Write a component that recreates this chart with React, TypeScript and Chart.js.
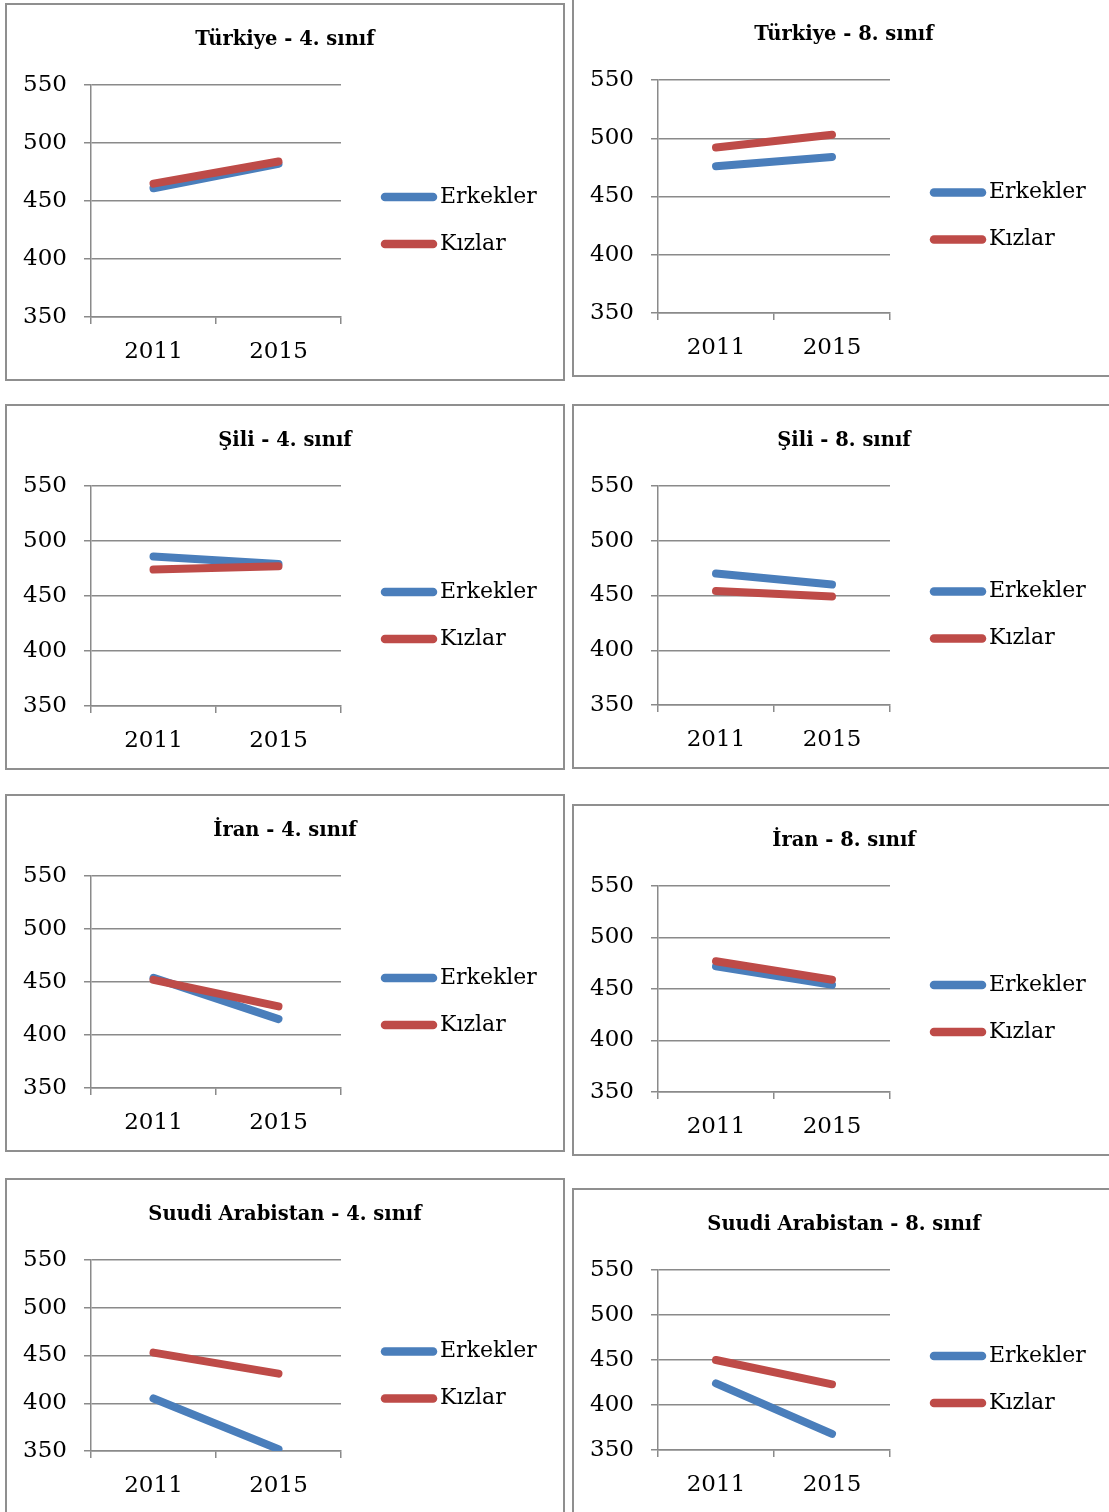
import { useEffect, useRef } from "react";
import { Chart, registerables } from "chart.js";

Chart.register(...registerables);

// Categories and series
const YEARS = ["2011", "2015"];
const PANEL_TITLES = [
  "Türkiye - 4. sınıf",
  "Türkiye - 8. sınıf",
  "Şili - 4. sınıf",
  "Şili - 8. sınıf",
  "İran - 4. sınıf",
  "İran - 8. sınıf",
  "Suudi Arabistan - 4. sınıf",
  "Suudi Arabistan - 8. sınıf",
];
const SERIES_NAMES = ["Erkekler", "Kızlar"];
const ERKEKLER = [
  [461, 482],
  [476, 484],
  [486, 479],
  [470, 460],
  [454, 415],
  [472, 454],
  [405, 352],
  [424, 368],
];
const KIZLAR = [
  [465, 484],
  [492, 503],
  [474, 477],
  [454, 449],
  [452, 427],
  [477, 459],
  [453, 431],
  [450, 423],
];
const Y_MIN = 350;
const Y_MAX = 550;
const Y_STEP = 50;

const SERIES_COLORS = ["#4a7ebb", "#be4b48"];
const GRID_COLOR = "#8a8a8a";
const FONT_FAMILY = '"DejaVu Serif", serif';

// Panel frames on the page: left, top, width, height, plot width
const FRAMES = [
  [5, 3, 560, 378, 250],
  [572, -2, 544, 379, 232],
  [5, 404, 560, 366, 250],
  [572, 404, 544, 365, 232],
  [5, 794, 560, 358, 250],
  [572, 804, 544, 352, 232],
  [5, 1178, 560, 337, 250],
  [572, 1188, 544, 326, 232],
];

const BORDER = 2;

function Panel({ index }: { index: number }) {
  const ref = useRef<HTMLCanvasElement>(null);
  const [bx, by, bw, bh, pw] = FRAMES[index];
  const cw = bw - 2 * BORDER;
  const ch = bh - 2 * BORDER;

  useEffect(() => {
    const canvas = ref.current;
    if (!canvas) return;
    const left = 86 - BORDER;
    const right = left + pw;
    const top = 82 - BORDER;
    const bottom = bh - 64 - BORDER;
    const title = PANEL_TITLES[index];

    // Title and legend drawn around the plot
    const decor = {
      id: "panelDecor",
      afterDraw(chart: any) {
        const ctx = chart.ctx as CanvasRenderingContext2D;
        const area = chart.chartArea;
        ctx.save();
        ctx.fillStyle = "#000";
        ctx.font = `bold 19.5px ${FONT_FAMILY}`;
        ctx.textAlign = "center";
        ctx.textBaseline = "middle";
        ctx.fillText(title, chart.width / 2, 37 - BORDER);

        const mid = (area.top + area.bottom) / 2 + 19.5;
        chart.data.datasets.forEach((ds: any, i: number) => {
          const y = mid + (i === 0 ? -23.5 : 23.5);
          const x0 = area.right + 40;
          ctx.strokeStyle = ds.borderColor;
          ctx.lineWidth = 8.5;
          ctx.lineCap = "round";
          ctx.beginPath();
          ctx.moveTo(x0 + 4, y);
          ctx.lineTo(x0 + 56 - 4, y);
          ctx.stroke();
          ctx.fillStyle = "#000";
          ctx.font = `22px ${FONT_FAMILY}`;
          ctx.textAlign = "left";
          ctx.textBaseline = "middle";
          ctx.fillText(ds.label, x0 + 59, y);
        });
        ctx.restore();
      },
    };

    const tickFont = { family: FONT_FAMILY, size: 23 };

    const chart = new Chart(canvas, {
      type: "line",
      data: {
        labels: YEARS,
        datasets: [
          {
            label: SERIES_NAMES[0],
            data: ERKEKLER[index],
            borderColor: SERIES_COLORS[0],
            backgroundColor: SERIES_COLORS[0],
            borderWidth: 8,
            borderCapStyle: "round",
            borderJoinStyle: "round",
            pointRadius: 0,
            order: 1,
          },
          {
            label: SERIES_NAMES[1],
            data: KIZLAR[index],
            borderColor: SERIES_COLORS[1],
            backgroundColor: SERIES_COLORS[1],
            borderWidth: 8,
            borderCapStyle: "round",
            borderJoinStyle: "round",
            pointRadius: 0,
            order: 0,
          },
        ],
      },
      options: {
        responsive: false,
        animation: false,
        devicePixelRatio: 1,
        events: [],
        layout: {
          autoPadding: false,
          padding: { left: 0, top, right: cw - right, bottom: 0 },
        },
        plugins: {
          legend: { display: false },
          title: { display: false },
          tooltip: { enabled: false },
        },
        scales: {
          x: {
            type: "category",
            offset: true,
            grid: {
              offset: true,
              drawOnChartArea: false,
              drawTicks: true,
              tickLength: 7,
              color: GRID_COLOR,
              lineWidth: 1.5,
            },
            border: { display: true, color: GRID_COLOR, width: 1.5 },
            ticks: {
              color: "#000",
              font: tickFont,
              padding: 14,
              maxRotation: 0,
              autoSkip: false,
            },
            afterFit: (s: any) => {
              s.height = ch - bottom;
            },
          },
          y: {
            min: Y_MIN,
            max: Y_MAX,
            ticks: {
              stepSize: Y_STEP,
              color: "#000",
              font: tickFont,
              padding: 17,
            },
            grid: { color: GRID_COLOR, lineWidth: 1.5, tickLength: 7 },
            border: { display: true, color: GRID_COLOR, width: 1.5 },
            afterFit: (s: any) => {
              s.width = left;
            },
          },
        },
      },
      plugins: [decor],
    } as any);

    return () => chart.destroy();
  }, [index]);

  return (
    <div
      style={{
        position: "absolute",
        left: bx,
        top: by,
        width: bw,
        height: bh,
        boxSizing: "border-box",
        border: `${BORDER}px solid #8f8f8f`,
        background: "#fff",
      }}
    >
      <canvas
        ref={ref}
        width={cw}
        height={ch}
        style={{ display: "block", width: cw, height: ch }}
      />
    </div>
  );
}

export default function App() {
  return (
    <div
      style={{
        position: "absolute",
        left: 0,
        top: 0,
        width: 1109,
        height: 1512,
        overflow: "hidden",
        background: "#fff",
      }}
    >
      {PANEL_TITLES.map((_, i) => (
        <Panel key={i} index={i} />
      ))}
    </div>
  );
}
